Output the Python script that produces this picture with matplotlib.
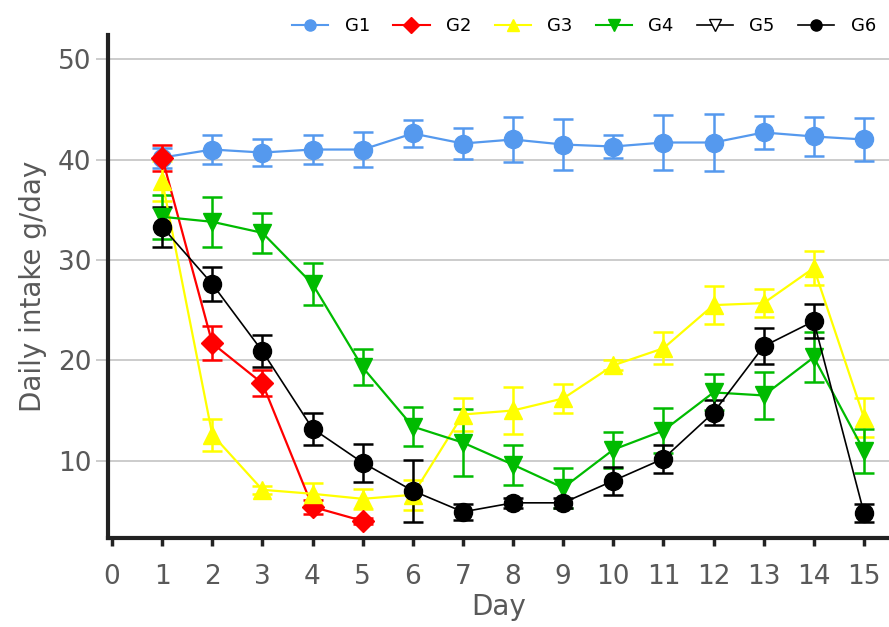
import matplotlib
matplotlib.use("Agg")
import matplotlib.pyplot as plt
from matplotlib.lines import Line2D

days = list(range(1, 16))

g1 = [40.2, 41.0, 40.7, 41.0, 41.0, 42.6, 41.6, 42.0, 41.5, 41.3, 41.7, 41.7, 42.7, 42.3, 42.0]
g1_err = [1.0, 1.4, 1.3, 1.4, 1.75, 1.3, 1.5, 2.2, 2.5, 1.1, 2.7, 2.8, 1.6, 1.9, 2.1]

g2_days = [1, 2, 3, 4, 5]
g2 = [40.2, 21.7, 17.7, 5.4, 4.0]
g2_err = [1.3, 1.7, 1.3, 0.7, 0.3]

g3 = [37.9, 12.6, 7.1, 6.7, 6.2, 6.6, 14.6, 15.0, 16.2, 19.5, 21.2, 25.5, 25.7, 29.2, 14.3]
g3_err = [2.0, 1.6, 0.4, 1.1, 1.0, 1.5, 1.6, 2.3, 1.4, 0.5, 1.6, 1.9, 1.4, 1.7, 1.9]

g4 = [34.3, 33.8, 32.7, 27.6, 19.3, 13.4, 11.8, 9.6, 7.3, 11.1, 13.0, 16.8, 16.5, 20.3, 11.0]
g4_err = [2.2, 2.5, 2.0, 2.1, 1.8, 1.9, 3.3, 2.0, 2.0, 1.8, 2.2, 1.8, 2.3, 2.5, 2.2]

g6 = [33.3, 27.6, 20.9, 13.2, 9.8, 7.0, 4.9, 5.8, 5.8, 8.0, 10.2, 14.8, 21.4, 23.9, 4.8]
g6_err = [2.0, 1.7, 1.6, 1.6, 1.9, 3.1, 0.8, 0.5, 0.5, 1.4, 1.4, 1.2, 1.8, 1.7, 0.9]

labels = ["G1", "G2", "G3", "G4", "G5", "G6"]

fig = plt.figure(figsize=(8.89, 6.27), dpi=100)
ax = fig.add_axes([0.1215, 0.142, 0.8785, 0.802])

style = dict(lw=1.6, capsize=7.5, capthick=1.8, elinewidth=1.8, markersize=13)
ax.errorbar(days, g1, yerr=g1_err, color="#5599ee", marker="o", **style)
ax.errorbar(g2_days, g2, yerr=g2_err, color="#ff0000", marker="D", **dict(style, markersize=11))
ax.errorbar(days, g3, yerr=g3_err, color="#ffff00", marker="^", **style)
ax.errorbar(days, g4, yerr=g4_err, color="#00bb00", marker="v", **style)
ax.errorbar(days, g6, yerr=g6_err, color="#000000", marker="o", **dict(style, lw=1.2))

ax.set_xlim(-0.08, 15.5)
ax.set_ylim(2.3, 52.4)
ax.set_xticks(range(0, 16))
ax.set_yticks([10, 20, 30, 40, 50])
ax.grid(axis="y", color="#c8c8c8", lw=1.3)
ax.set_axisbelow(True)

for s in ["top", "right"]:
    ax.spines[s].set_visible(False)
for s in ["left", "bottom"]:
    ax.spines[s].set_color("#222222")
    ax.spines[s].set_linewidth(3)

ax.tick_params(axis="y", length=9, width=1.3, color="#c8c8c8", labelsize=19,
               labelcolor="#595959", pad=3)
ax.tick_params(axis="x", length=6, width=2.5, color="#222222", labelsize=19,
               labelcolor="#595959", pad=13)

ax.set_xlabel("Day", fontsize=20, color="#595959", labelpad=2)
ax.set_ylabel("Daily intake g/day", fontsize=20, color="#595959", labelpad=8)

handles = [
    Line2D([], [], color="#5599ee", marker="o", markersize=8, lw=1.5),
    Line2D([], [], color="#ff0000", marker="D", markersize=8, lw=1.5),
    Line2D([], [], color="#ffff00", marker="^", markersize=8, lw=1.5),
    Line2D([], [], color="#00bb00", marker="v", markersize=8, lw=1.5),
    Line2D([], [], color="#000000", marker="v", markersize=8, lw=1.2, markerfacecolor="white"),
    Line2D([], [], color="#000000", marker="o", markersize=8, lw=1.2),
]
fig.legend(handles, labels, loc="center", bbox_to_anchor=(0.657, 0.958), ncol=6,
           frameon=False, fontsize=13, handlelength=2.0, columnspacing=1.3,
           handletextpad=0.9)

fig.savefig("out.png", dpi=100)
